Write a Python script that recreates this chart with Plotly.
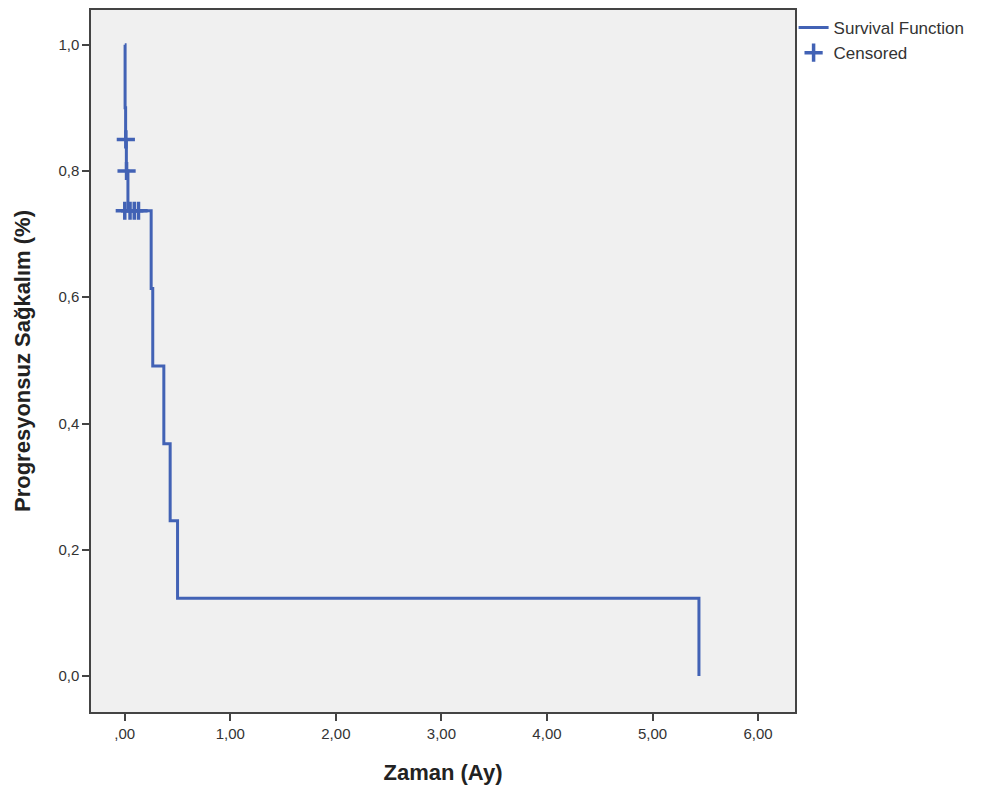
import plotly.graph_objects as go

# Kaplan-Meier step path (time in months, survival proportion)
step_times = [0.0, 0.003, 0.008, 0.015, 0.03, 0.25, 0.265, 0.37, 0.43, 0.50, 5.44]
step_surv = [1.0, 0.90, 0.85, 0.80, 0.737, 0.614, 0.491, 0.368, 0.246, 0.123, 0.0]

# Censored observations
cens_times = [0.01, 0.017, 0.0, 0.05, 0.09, 0.13]
cens_surv = [0.85, 0.80, 0.737, 0.737, 0.737, 0.737]

x_tickvals = [0, 1, 2, 3, 4, 5, 6]
x_ticktext = [",00", "1,00", "2,00", "3,00", "4,00", "5,00", "6,00"]
y_tickvals = [0.0, 0.2, 0.4, 0.6, 0.8, 1.0]
y_ticktext = ["0,0", "0,2", "0,4", "0,6", "0,8", "1,0"]

color = "#4262B5"
font_fam = "Liberation Sans"

fig = go.Figure()
fig.add_trace(go.Scatter(
    x=step_times, y=step_surv, mode="lines", line_shape="hv",
    line=dict(color=color, width=3), name="Survival Function"))
fig.add_trace(go.Scatter(
    x=cens_times, y=cens_surv, mode="markers", name="Censored",
    marker=dict(symbol="cross-thin", size=13, line=dict(color=color, width=3.5))))

axis_common = dict(showline=True, linecolor="#444", linewidth=1.5, mirror=True,
                   showgrid=False, zeroline=False, ticks="outside", ticklen=7,
                   tickcolor="#444", tickwidth=1.5,
                   tickfont=dict(family=font_fam, size=15, color="#333"))

fig.update_layout(
    width=982, height=798,
    margin=dict(l=83, r=195, t=0, b=94),
    paper_bgcolor="white", plot_bgcolor="#F0F0F0",
    xaxis=dict(range=[-0.32, 6.35], tickvals=x_tickvals, ticktext=x_ticktext,
               title=dict(text="<b>Zaman (Ay)</b>", font=dict(family=font_fam, size=22, color="#222"), standoff=24),
               **axis_common),
    yaxis=dict(range=[-0.057, 1.055], tickvals=y_tickvals, ticktext=y_ticktext,
               title=dict(text="<b>Progresyonsuz Sağkalım (%)</b>", font=dict(family=font_fam, size=22, color="#222"), standoff=22),
               **axis_common),
    legend=dict(x=0.998, y=1.0, xanchor="left", yanchor="top",
                font=dict(family=font_fam, size=17, color="#333"),
                bgcolor="rgba(0,0,0,0)", itemwidth=30, tracegroupgap=0),
    showlegend=True,
)

fig.write_html("out.html")
